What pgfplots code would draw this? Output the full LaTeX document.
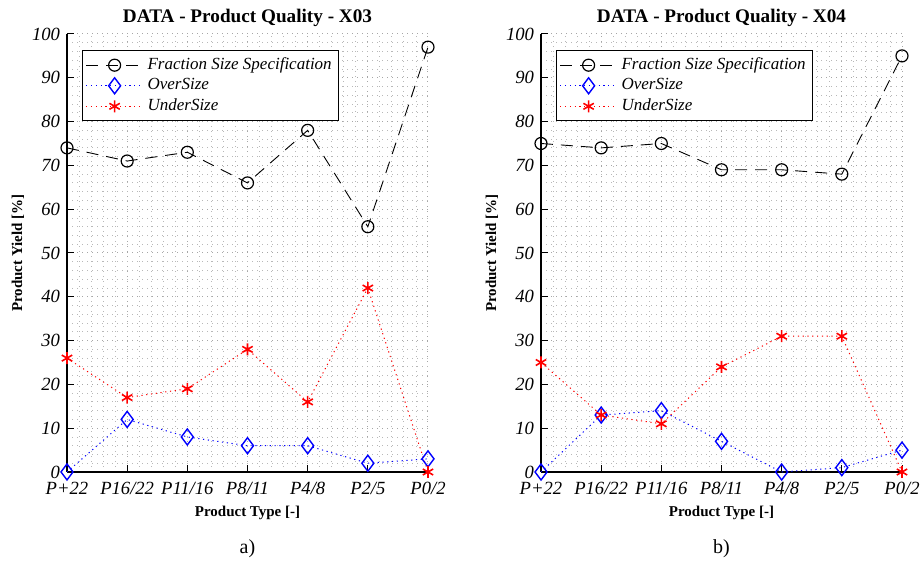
\documentclass[border=0pt]{standalone}
\usepackage{pgfplots}
\pgfplotsset{compat=1.18}
\usepackage{fontspec}
\setmainfont{Liberation Serif}

\pgfplotsset{
 myaxis/.style={
  scale only axis, width=180.5pt, height=219pt,
  xmin=0, xmax=6, ymin=0, ymax=100,
  xtick={0,...,6},
  xticklabels={P+22,P16/22,P11/16,P8/11,P4/8,P2/5,P0/2},
  ytick={0,10,...,100},
  minor y tick num=4, minor x tick num=4,
  grid=both,
  major grid style={black!35, dash pattern=on 0.5pt off 2pt, line width=0.5pt},
  minor grid style={black!28, dash pattern=on 0.5pt off 2pt, line width=0.45pt},
  axis x line*=bottom, axis y line*=left,
  axis line style={-, black, line width=0.6pt},
  tick style={black, line width=0.5pt}, major tick length=3.5pt, minor tick length=0pt,
  tick align=inside,
  ticklabel style={font=\fontsize{9.3}{10}\selectfont\itshape},
  xticklabel style={yshift=-1.5pt},
  /pgf/number format/assume math mode=true,
  xlabel={Product Type [-]}, ylabel={Product Yield [\%]},
  every axis y label/.style={at={(axis description cs:-0.1357,0.5)}, anchor=center, rotate=90},
  every axis x label/.style={at={(axis description cs:0.5,-0.0936)}, anchor=center},
  label style={font=\fontsize{7.5}{9}\selectfont\bfseries},
  every axis title/.style={at={(axis description cs:0.5,1.0365)}, anchor=center},
  title style={font=\fontsize{9.6}{11}\selectfont\bfseries},
  clip=false,
  legend style={at={(rel axis cs:0.042,0.963)}, anchor=north west, draw=black,
    line width=0.5pt, fill=white, font=\fontsize{8.5}{10}\selectfont\itshape,
    inner sep=1.5pt, cells={anchor=west}, row sep=-1pt},
  legend image code/.code={\draw[mark repeat=2,mark phase=2] plot coordinates {(0cm,0cm) (0.5cm,0cm) (1cm,0cm)};},
 },
 fss/.style={black, line width=0.45pt, dash pattern=on 6pt off 4pt, mark=o, mark size=3pt, mark options={solid, line width=0.6pt}},
 ovs/.style={blue, line width=0.5pt, dash pattern=on 0.6pt off 1.8pt, mark=diamond, mark size=4pt, mark options={solid, line width=0.7pt}},
 uns/.style={red, line width=0.5pt, dash pattern=on 0.6pt off 1.8pt, mark=asterisk, mark size=3pt, mark options={solid, line width=0.8pt}},
}

\begin{document}
\begin{tikzpicture}
\begin{axis}[myaxis, title={DATA - Product Quality - X03}, at={(0pt,0pt)}, anchor=south west]
\addplot[fss] coordinates {(0,74) (1,71) (2,73) (3,66) (4,78) (5,56) (6,97)};
\addlegendentry{Fraction Size Specification}
\addplot[ovs] coordinates {(0,0) (1,12) (2,8) (3,6) (4,6) (5,2) (6,3)};
\addlegendentry{OverSize}
\addplot[uns] coordinates {(0,26) (1,17) (2,19) (3,28) (4,16) (5,42) (6,0)};
\addlegendentry{UnderSize}
\node[font=\fontsize{10}{12}\selectfont] at (axis description cs:0.5,-0.1758) {a)};
\end{axis}
\begin{axis}[myaxis, title={DATA - Product Quality - X04}, at={(237pt,0pt)}, anchor=south west]
\addplot[fss] coordinates {(0,75) (1,74) (2,75) (3,69) (4,69) (5,68) (6,95)};
\addlegendentry{Fraction Size Specification}
\addplot[ovs] coordinates {(0,0) (1,13) (2,14) (3,7) (4,0) (5,1) (6,5)};
\addlegendentry{OverSize}
\addplot[uns] coordinates {(0,25) (1,13) (2,11) (3,24) (4,31) (5,31) (6,0)};
\addlegendentry{UnderSize}
\node[font=\fontsize{10}{12}\selectfont] at (axis description cs:0.5,-0.1758) {b)};
\end{axis}
\pgfresetboundingbox
\useasboundingbox (-33.5pt,-44.5pt) rectangle (427pt,236pt);
\end{tikzpicture}
\end{document}
